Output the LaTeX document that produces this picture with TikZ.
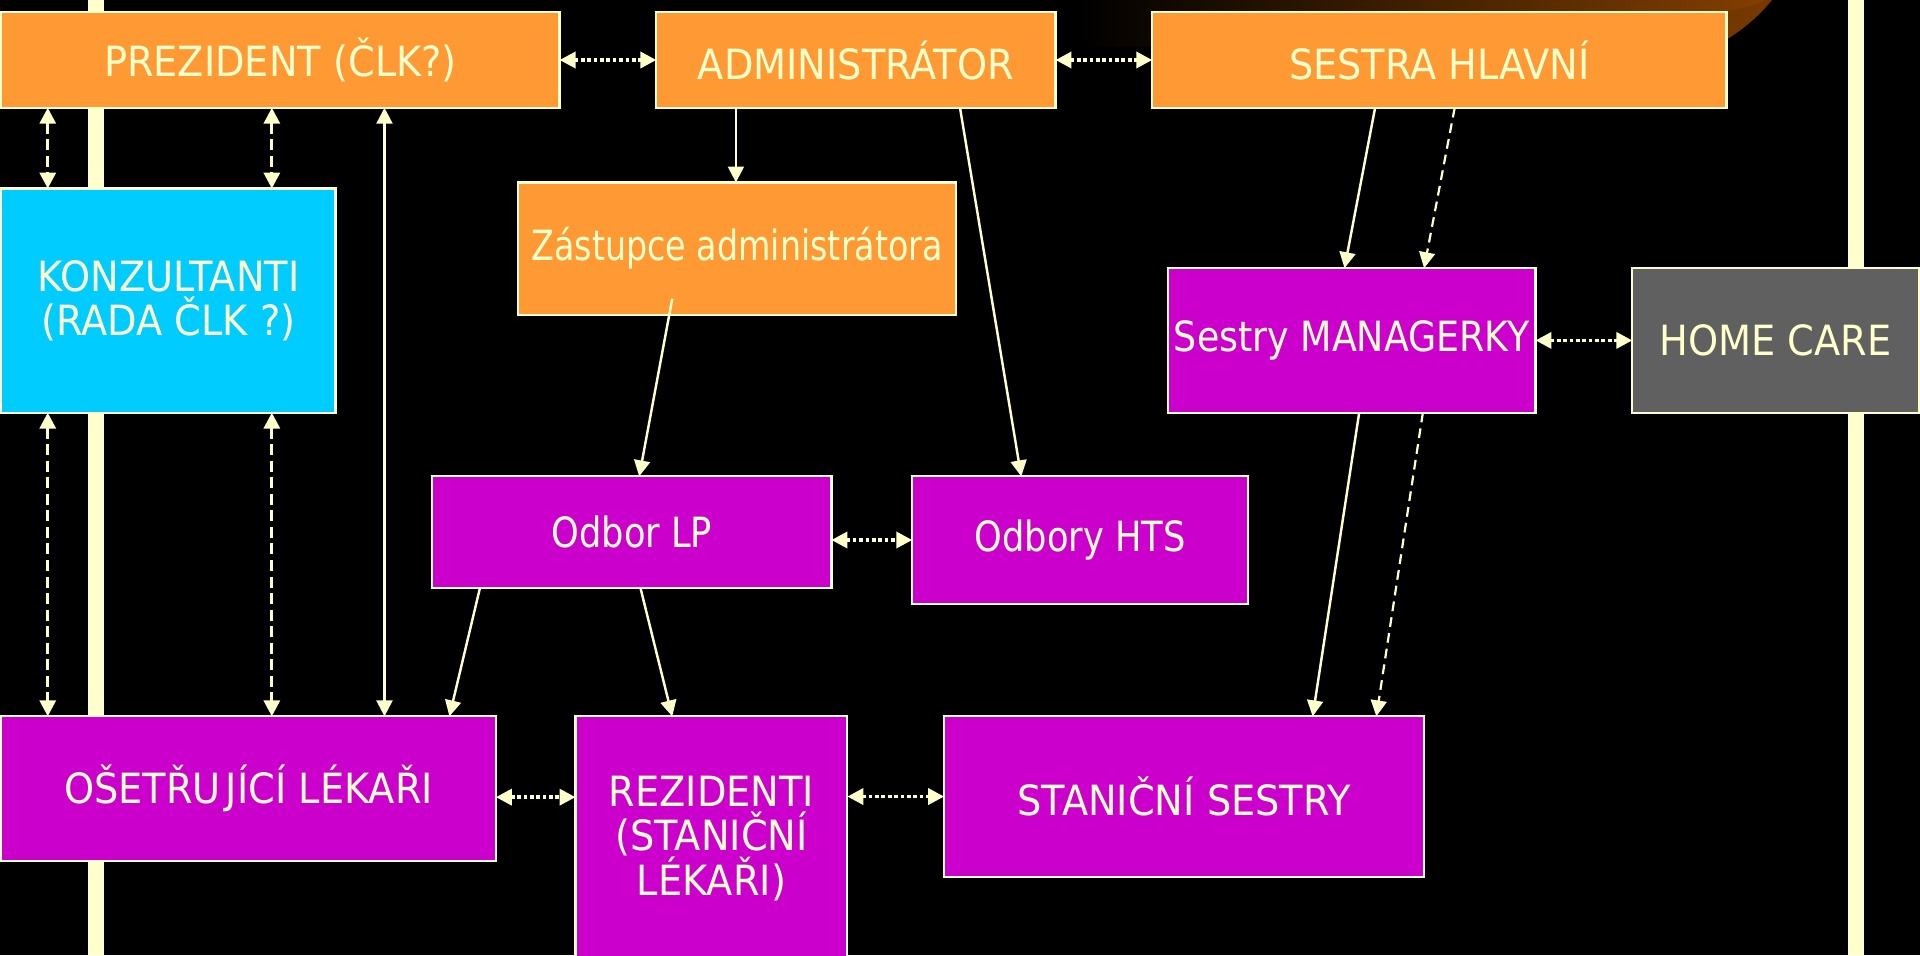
\documentclass[tikz,border=0pt]{standalone}
\usepackage{fontspec}
\setmainfont[FakeStretch=0.92]{DejaVu Sans}
\usetikzlibrary{arrows.meta,calc}
\definecolor{cream}{HTML}{FFFFCC}
\definecolor{orng}{HTML}{FF9933}
\definecolor{cyn}{HTML}{00CCFF}
\definecolor{mag}{HTML}{CC00CC}
\definecolor{gry}{HTML}{606060}
\definecolor{brwn}{HTML}{6E3400}
\definecolor{brwnlight}{HTML}{844000}
\begin{document}
\begin{tikzpicture}[x=1pt,y=-1pt,
  box/.style={draw=cream,line width=1.8pt,inner sep=0pt,outer sep=0pt,anchor=north west,
    text=cream,align=center,font=\fontsize{34}{36}\selectfont},
  tipa/.tip={Triangle[length=13pt,width=13pt]},
  solidarr/.style={draw=cream,line width=2pt,-tipa},
  bothsolid/.style={draw=cream,line width=2pt,tipa-tipa},
  dasharr/.style={draw=cream,line width=2.7pt,dash pattern=on 9pt off 4.5pt,tipa-tipa},
  dashthin/.style={draw=cream,line width=1.8pt,dash pattern=on 8pt off 5pt,-tipa},
  dotarr/.style={draw=cream,line width=3pt,dash pattern=on 3pt off 2.2pt,tipa-tipa}]
\useasboundingbox (0,0) rectangle (1568,780);
\clip (0,0) rectangle (1568,780);
\fill[black] (0,0) rectangle (1568,780);
% brown swoosh at the top right
\shade[left color=black,right color=brwnlight] (880,0) -- (1447,0)
  .. controls (1432,18) and (1418,28) .. (1400,38) -- (880,38) -- cycle;
\fill[brwn,opacity=0.6] (1447,0) .. controls (1432,18) and (1418,28) .. (1400,38)
  -- (1400,10) .. controls (1420,8) and (1436,4) .. (1441,0) -- cycle;
% vertical bars
\fill[cream] (72,0) rectangle (85,780);
\fill[cream] (1509,0) rectangle (1522,780);
% boxes
\node[box,fill=orng,minimum width=456,minimum height=78] (prez) at (1,10) {PREZIDENT (ČLK?)};
\node[box,fill=orng,minimum width=326,minimum height=78] (admin) at (536,10) {ADMINISTRÁTOR};
\node[box,fill=orng,minimum width=469,minimum height=78] (sestra) at (941,10) {SESTRA HLAVNÍ};
\node[box,fill=cyn,minimum width=273,minimum height=183] (konz) at (1,154) {KONZULTANTI\\(RADA ČLK ?)};
\node[box,fill=orng,minimum width=358,minimum height=108] (zast) at (423,149) {\scalebox{0.87}[1]{Zástupce administrátora}};
\node[box,fill=mag,minimum width=300,minimum height=118] (manag) at (954,219) {\scalebox{0.95}[1]{Sestry MANAGERKY}};
\node[box,fill=gry,minimum width=234,minimum height=118] (home) at (1333,219) {HOME CARE};
\node[box,fill=mag,minimum width=326,minimum height=91] (lp) at (353,389) {\scalebox{0.92}[1]{Odbor LP}};
\node[box,fill=mag,minimum width=274,minimum height=104] (hts) at (745,389) {\scalebox{0.92}[1]{Odbory HTS}};
\node[box,fill=mag,minimum width=404,minimum height=118] (oset) at (1,585) {OŠETŘU\hspace{0.12em}JÍCÍ LÉKAŘI};
\node[box,fill=mag,minimum width=222,minimum height=200] (rez) at (470,585) {REZIDENTI\\(STANIČNÍ\\LÉKAŘI)};
\node[box,fill=mag,minimum width=392,minimum height=131] (stan) at (771,585) {STANIČNÍ SESTRY};
% helper coordinates
\coordinate (a1) at ([xshift=65pt]admin.south west);
\coordinate (z1) at ([xshift=126pt,yshift=13pt]zast.south west);
\coordinate (o1) at ([yshift=-7pt]oset.east);
% connectors
\draw[dotarr] (prez.east) -- (admin.west);
\draw[dotarr] (admin.east) -- (sestra.west);
\draw[dasharr] ([xshift=38pt]prez.south west) -- ([xshift=38pt]konz.north west);
\draw[dasharr] ([xshift=221pt]prez.south west) -- ([xshift=221pt]konz.north west);
\draw[bothsolid] ([xshift=313pt]prez.south west) -- ([xshift=313pt]oset.north west);
\draw[dasharr] ([xshift=38pt]konz.south west) -- ([xshift=38pt]oset.north west);
\draw[dasharr] ([xshift=221pt]konz.south west) -- ([xshift=221pt]oset.north west);
\draw[solidarr] (a1) -- (a1 |- zast.north);
\draw[solidarr] ([xshift=248pt]admin.south west) -- ([xshift=89pt]hts.north west);
\draw[solidarr] (z1) -- ([xshift=169pt]lp.north west);
\draw[solidarr] ([xshift=182pt]sestra.south west) -- ([xshift=144pt]manag.north west);
\draw[dashthin] ([xshift=247pt]sestra.south west) -- ([xshift=209pt]manag.north west);
\draw[dotarr] (manag.east) -- (home.west);
\draw[solidarr] ([xshift=156pt]manag.south west) -- ([xshift=301pt]stan.north west);
\draw[dashthin] ([xshift=208pt]manag.south west) -- ([xshift=353pt]stan.north west);
\draw[dotarr] (lp.east |- hts.west) -- (hts.west);
\draw[solidarr] ([xshift=39pt]lp.south west) -- ([xshift=366pt]oset.north west);
\draw[solidarr] ([xshift=170pt]lp.south west) -- ([xshift=79pt]rez.north west);
\draw[dotarr] (o1) -- (o1 -| rez.west);
\draw[dotarr] (stan.west -| rez.east) -- (stan.west);
\end{tikzpicture}
\end{document}
